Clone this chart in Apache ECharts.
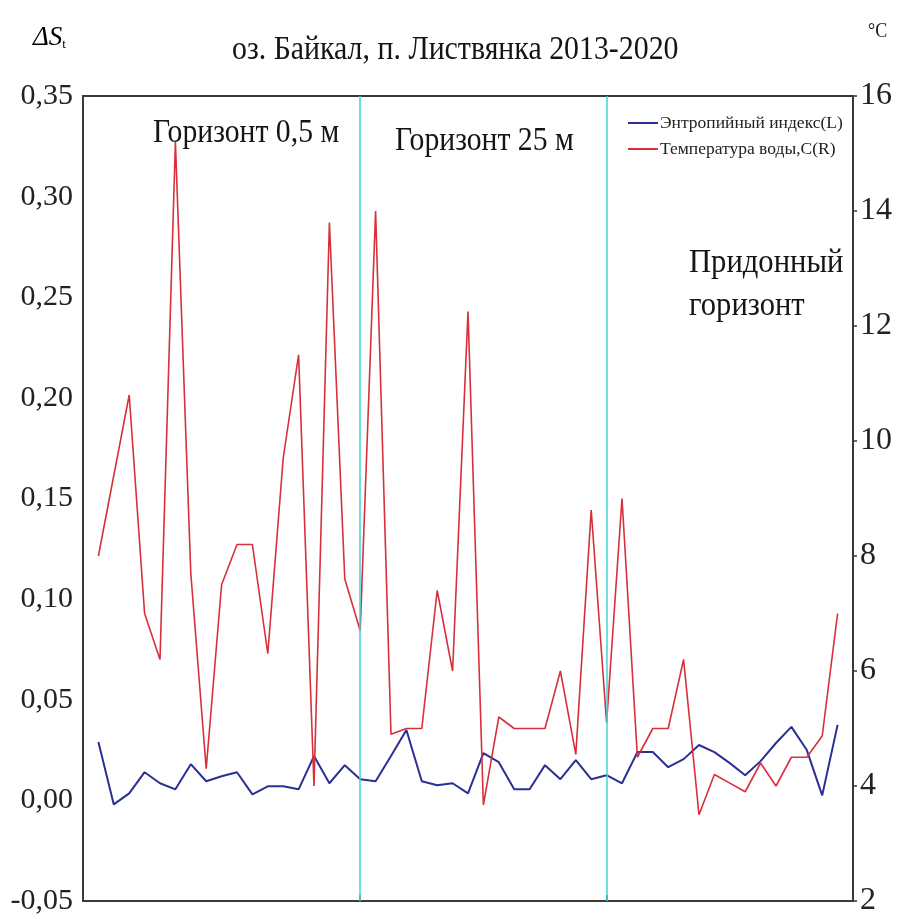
<!DOCTYPE html>
<html>
<head>
<meta charset="utf-8">
<script src="https://cdn.jsdelivr.net/npm/echarts@6/dist/echarts.min.js"></script>
<style>
html,body{margin:0;padding:0;background:#fff;}
#chart{width:899px;height:919px;}
</style>
</head>
<body>
<div id="chart"></div>
<script>
// sample numbers (x positions)
const sampleNo = [1,2,3,4,5,6,7,8,9,10,11,12,13,14,15,16,17,18,19,20,21,22,23,24,25,26,27,28,29,30,31,32,33,34,35,36,37,38,39,40,41,42,43,44,45,46,47,48,49];
// Entropy index (left axis)
const entropy = [0.029,-0.002,0.0035,0.014,0.0085,0.0055,0.018,0.0095,0.012,0.014,0.003,0.007,0.007,0.0055,0.022,0.0085,0.0175,0.0105,0.0095,0.022,0.035,0.0095,0.0075,0.0085,0.0035,0.0235,0.019,0.0055,0.0055,0.0175,0.0105,0.020,0.0105,0.0125,0.0085,0.024,0.024,0.0165,0.0205,0.0275,0.024,0.0185,0.0125,0.0195,0.0285,0.0365,0.025,0.0025,0.0375];
// Water temperature, C (right axis)
const temperature = [8.0,9.4,10.8,7.0,6.2,15.2,7.7,4.3,7.5,8.2,8.2,6.3,9.7,11.5,4.0,13.8,7.6,6.7,14.0,4.9,5.0,5.0,7.4,6.0,12.25,3.67,5.2,5.0,5.0,5.0,6.0,4.55,8.8,5.1,9.0,4.5,5.0,5.0,6.2,3.5,4.2,4.05,3.9,4.4,4.0,4.5,4.5,4.87,7.0];
// horizon boundaries (sample numbers)
const boundaries = [18, 34];
const leftTicks = [-0.05,0,0.05,0.10,0.15,0.20,0.25,0.30,0.35];
const rightTicks = [2,4,6,8,10,12,14,16];
const seriesNames = ['Энтропийный индекс(L)', 'Температура воды,C(R)'];
const titleText = 'оз. Байкал, п. Листвянка 2013-2020';
const horizonLabels = ['Горизонт 0,5 м', 'Горизонт 25 м', 'Придонный', 'горизонт'];

const serif = '"Liberation Serif","DejaVu Serif",serif';
const chart = echarts.init(document.getElementById('chart'), null, {renderer:'canvas'});

function txt(x, y, text, size, sx, extra) {
  return Object.assign({type: 'text', x: x, y: y, scaleX: sx, scaleY: 1,
    style: {text: text, font: size + 'px ' + serif, fill: '#151515', textAlign: 'left', textVerticalAlign: 'middle'}}, extra || {});
}

const option = {
  backgroundColor: '#fff',
  animation: false,
  grid: {left: 83, right: 46, top: 96, bottom: 18, show: true, borderColor: '#3a3a3a', borderWidth: 2, backgroundColor: '#fff'},
  legend: {
    orient: 'vertical', left: 623, top: 109,
    itemWidth: 30, itemHeight: 2, itemGap: 8, icon: 'rect',
    textStyle: {fontFamily: serif, fontSize: 17.5, color: '#222', padding: [0,0,0,-3]},
    data: seriesNames
  },
  xAxis: {
    type: 'value', min: 0, max: 50,
    axisLine: {show: true, onZero: false, lineStyle: {color: '#3a3a3a', width: 2}},
    axisTick: {show: true, inside: true, length: 6, customValues: boundaries, lineStyle: {color: '#3a3a3a', width: 1.5}},
    axisLabel: {show: false},
    splitLine: {show: false}
  },
  yAxis: [
    {
      type: 'value', min: -0.05, max: 0.35, interval: 0.05, position: 'left',
      axisLine: {show: true, onZero: false, lineStyle: {color: '#3a3a3a', width: 2}},
      axisTick: {show: false},
      splitLine: {show: false},
      axisLabel: {
        margin: 10, fontFamily: serif, fontSize: 30, color: '#222',
        formatter: v => v.toFixed(2).replace('.', ',')
      }
    },
    {
      type: 'value', min: 2, max: 16, interval: 2, position: 'right',
      axisLine: {show: true, onZero: false, lineStyle: {color: '#3a3a3a', width: 2}},
      axisTick: {show: true, length: 4, lineStyle: {color: '#3a3a3a', width: 1.5}},
      splitLine: {show: false},
      axisLabel: {margin: 7, fontFamily: serif, fontSize: 32, color: '#222'}
    }
  ],
  series: [
    {
      name: seriesNames[0], type: 'line', yAxisIndex: 0, z: 3,
      data: sampleNo.map((x, i) => [x, entropy[i]]),
      showSymbol: false, symbol: 'none',
      lineStyle: {color: '#2b2f93', width: 2},
      itemStyle: {color: '#2b2f93'},
      markLine: {
        silent: true, symbol: 'none', label: {show: false},
        lineStyle: {color: '#3fd6d6', width: 1.5, type: 'solid'},
        data: boundaries.map(b => ({xAxis: b}))
      }
    },
    {
      name: seriesNames[1], type: 'line', yAxisIndex: 1, z: 4,
      data: sampleNo.map((x, i) => [x, temperature[i]]),
      showSymbol: false, symbol: 'none',
      lineStyle: {color: '#d8303a', width: 1.6},
      itemStyle: {color: '#d8303a'}
    }
  ],
  graphic: [
    txt(232, 50, titleText, 33, 0.905),
    txt(153, 133, horizonLabels[0], 33, 0.9),
    txt(395, 141, horizonLabels[1], 33, 0.9),
    txt(689, 263, horizonLabels[2], 34, 0.9),
    txt(689, 306, horizonLabels[3], 34, 0.9),
    {type: 'text', x: 33, y: 38, style: {
      text: '{a|ΔS}{b|t}', textVerticalAlign: 'middle',
      rich: {a: {fontStyle: 'italic', fontSize: 27, fontFamily: serif, color: '#222'},
             b: {fontSize: 13, fontFamily: serif, color: '#222', padding: [14,0,0,0]}}
    }},
    txt(868, 32, '°C', 20, 0.9)
  ]
};
chart.setOption(option);
</script>
</body>
</html>
